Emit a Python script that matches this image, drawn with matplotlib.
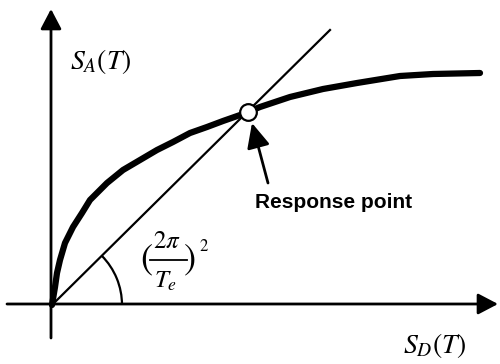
import matplotlib
matplotlib.use('Agg')
import matplotlib.pyplot as plt
from matplotlib.patches import Arc

plt.rcParams['mathtext.fontset'] = 'stix'

# capacity curve S_A vs S_D (plot units)
curve_sd = [0, 3, 5, 8, 13, 21, 30, 38, 55, 71, 88, 105, 121, 138, 155, 171,
            191, 208, 238, 271, 305, 348, 381, 428]
curve_sa = [0, 18, 32, 45, 62, 78, 92, 105, 122, 135, 145, 155, 163, 172, 178, 184,
            191, 198, 208, 216, 222, 229, 231, 232]

# demand line through origin, slope (2*pi/Te)^2
line_sd = [0, 278]
line_sa = [0, 275]

# intersection
resp_sd, resp_sa = 196, 193

fig = plt.figure(figsize=(5, 3.64), dpi=100)
ax = fig.add_axes([0, 0, 1, 1])
ax.set_xlim(-52, 448)
ax.set_ylim(-59, 305)
ax.axis('off')

arrow_kw = dict(arrowstyle='-|>,head_length=0.61,head_width=0.32',
                mutation_scale=20, lw=2, color='black', shrinkA=0, shrinkB=0)
ax.annotate('', xy=(446, 1), xytext=(-45, 1), arrowprops=arrow_kw)
ax.annotate('', xy=(-1, 296), xytext=(-1, -33), arrowprops=arrow_kw)

ax.plot(line_sd, line_sa, color='black', lw=1.6)
ax.plot(curve_sd, curve_sa, color='black', lw=4.5, solid_capstyle='round',
        solid_joinstyle='round')
ax.plot(resp_sd, resp_sa, 'o', ms=12, mfc='white', mec='black', mew=1.6, zorder=5)

# angle of the demand line
ax.add_patch(Arc((0, 0), 140, 140, theta1=0, theta2=44.7, color='black', lw=1.6))

ax.annotate('', xy=(200, 182), xytext=(216, 122),
            arrowprops=dict(arrowstyle='-|>,head_length=0.75,head_width=0.35',
                            mutation_scale=20, lw=2, color='black',
                            shrinkA=0, shrinkB=0))
ax.text(282, 103, 'Response point', ha='center', va='center', fontsize=15,
        family='Liberation Sans', fontweight='bold')

# (2*pi/Te)^2 label, built up piece by piece
ax.text(115, 64, r'$2\pi$', fontsize=18, ha='center', va='center')
ax.plot([98, 135], [45, 45], color='black', lw=1.3)
ax.text(114, 24, r'$T_e$', fontsize=18, ha='center', va='center')
ax.text(94, 44, '(', fontsize=26, ha='center', va='center', family='STIXGeneral')
ax.text(138, 44, ')', fontsize=26, ha='center', va='center', family='STIXGeneral')
ax.text(152, 58, '2', fontsize=12, ha='center', va='center', family='STIXGeneral')

ax.text(18, 243, r'$S_A(T)$', fontsize=20, ha='left', va='center')
ax.text(351, -41, r'$S_D(T)$', fontsize=20, ha='left', va='center')

fig.savefig('out.png', dpi=100)
